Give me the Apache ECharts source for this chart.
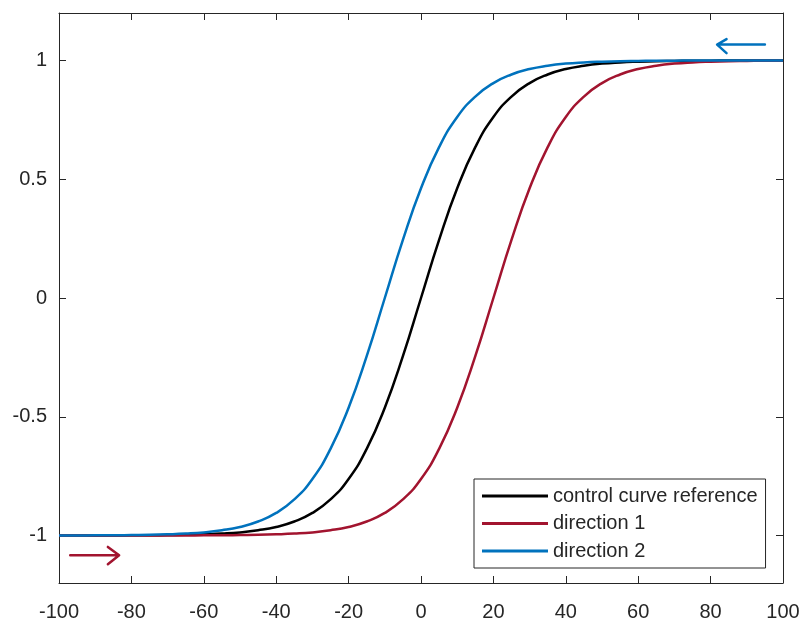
<!DOCTYPE html>
<html>
<head>
<meta charset="utf-8">
<script src="https://cdn.jsdelivr.net/npm/echarts@6/dist/echarts.min.js"></script>
<style>
  html, body { margin: 0; padding: 0; background: #fff; }
  #mychart { width: 802px; height: 621px; }
</style>
</head>
<body>
<div id="mychart"></div>
<script>
// x positions (step 5)
const xValues = [-100, -95, -90, -85, -80, -75, -70, -65, -60, -55, -50, -45, -40, -35, -30, -25, -20, -15, -10, -5,
  0, 5, 10, 15, 20, 25, 30, 35, 40, 45, 50, 55, 60, 65, 70, 75, 80, 85, 90, 95, 100];

const controlCurve = [-1.000, -1.000, -1.000, -1.000, -0.999, -0.999, -0.998, -0.997, -0.995, -0.992,
  -0.987, -0.978, -0.964, -0.941, -0.905, -0.848, -0.762, -0.635, -0.462, -0.245,
  0, 0.245, 0.462, 0.635, 0.762, 0.848, 0.905, 0.941, 0.964, 0.978,
  0.987, 0.992, 0.995, 0.997, 0.998, 0.999, 0.999, 1.000, 1.000, 1.000, 1.000];
const direction1 = [-1.000, -1.000, -1.000, -1.000, -1.000, -1.000, -1.000, -1.000, -0.999, -0.999,
  -0.998, -0.997, -0.995, -0.992, -0.987, -0.978, -0.964, -0.941, -0.905, -0.848,
  -0.762, -0.635, -0.462, -0.245, 0, 0.245, 0.462, 0.635, 0.762, 0.848,
  0.905, 0.941, 0.964, 0.978, 0.987, 0.992, 0.995, 0.997, 0.998, 0.999, 0.999];
const direction2 = [-1.000, -1.000, -0.999, -0.999, -0.998, -0.997, -0.995, -0.992, -0.987, -0.978,
  -0.964, -0.941, -0.905, -0.848, -0.762, -0.635, -0.462, -0.245, 0, 0.245,
  0.462, 0.635, 0.762, 0.848, 0.905, 0.941, 0.964, 0.978, 0.987, 0.992,
  0.995, 0.997, 0.998, 0.999, 0.999, 1.000, 1.000, 1.000, 1.000, 1.000, 1.000];

// arrow annotations (barb, tip, barb, tip, tail)
const arrow1 = [[-86.5, -1.048], [-83.4, -1.083], [-86.5, -1.121], [-83.4, -1.083], [-96.9, -1.083]];
const arrow2 = [[84.4, 1.090], [81.8, 1.067], [84.4, 1.031], [81.8, 1.067], [95, 1.067]];

const yTicks = [-1, -0.5, 0, 0.5, 1];

const axisColor = '#262626';
const font = "'Liberation Sans', Arial, sans-serif";

function pairs(ys) {
  return xValues.map((x, i) => [x, ys[i]]);
}

function curve(name, ys, color) {
  return {
    name: name,
    type: 'line',
    data: pairs(ys),
    symbol: 'none',
    smooth: 0.5,
    lineStyle: { color: color, width: 2.5 },
    itemStyle: { color: color },
    silent: true
  };
}

function arrow(pts, color) {
  return {
    type: 'line',
    data: pts,
    symbol: 'none',
    lineStyle: { color: color, width: 2.5, join: 'round', cap: 'round' },
    silent: true
  };
}

const myChart = echarts.init(document.getElementById('mychart'));
const option = {
  animation: false,
  backgroundColor: '#fff',
  textStyle: { fontFamily: font },
  grid: { left: 59, right: 19, top: 13, bottom: 38, containLabel: false, outerBoundsMode: 'none' },
  legend: {
    data: ['control curve reference', 'direction 1', 'direction 2'],
    orient: 'vertical',
    left: 474,
    top: 479,
    icon: 'rect',
    itemWidth: 66,
    itemHeight: 3,
    itemGap: 7.5,
    padding: [7, 8, 7, 8],
    backgroundColor: '#fff',
    borderColor: axisColor,
    borderWidth: 1,
    borderRadius: 0,
    textStyle: { fontSize: 20, color: axisColor, fontFamily: font }
  },
  xAxis: [
    {
      type: 'value', min: -100, max: 100, interval: 20,
      axisLine: { show: true, onZero: false, lineStyle: { color: axisColor, width: 1 } },
      axisTick: { show: true, inside: true, length: 7, lineStyle: { color: axisColor } },
      axisLabel: { fontSize: 20, color: axisColor, margin: 19, fontFamily: font },
      splitLine: { show: false }
    },
    {
      type: 'value', position: 'top', min: -100, max: 100, interval: 20,
      axisLine: { show: true, onZero: false, lineStyle: { color: axisColor, width: 1 } },
      axisTick: { show: true, inside: true, length: 7, lineStyle: { color: axisColor } },
      axisLabel: { show: false },
      splitLine: { show: false }
    }
  ],
  yAxis: [
    {
      type: 'value', min: -1.2, max: 1.2,
      axisLine: { show: true, onZero: false, lineStyle: { color: axisColor, width: 1 } },
      axisTick: { show: true, inside: true, length: 7, customValues: yTicks, lineStyle: { color: axisColor } },
      axisLabel: { fontSize: 20, color: axisColor, margin: 12, customValues: yTicks, fontFamily: font },
      splitLine: { show: false }
    },
    {
      type: 'value', position: 'right', min: -1.2, max: 1.2,
      axisLine: { show: true, onZero: false, lineStyle: { color: axisColor, width: 1 } },
      axisTick: { show: true, inside: true, length: 7, customValues: yTicks, lineStyle: { color: axisColor } },
      axisLabel: { show: false },
      splitLine: { show: false }
    }
  ],
  series: [
    curve('control curve reference', controlCurve, '#000000'),
    curve('direction 1', direction1, '#A2142F'),
    curve('direction 2', direction2, '#0072BD'),
    arrow(arrow1, '#A2142F'),
    arrow(arrow2, '#0072BD')
  ]
};
myChart.setOption(option);
</script>
</body>
</html>
